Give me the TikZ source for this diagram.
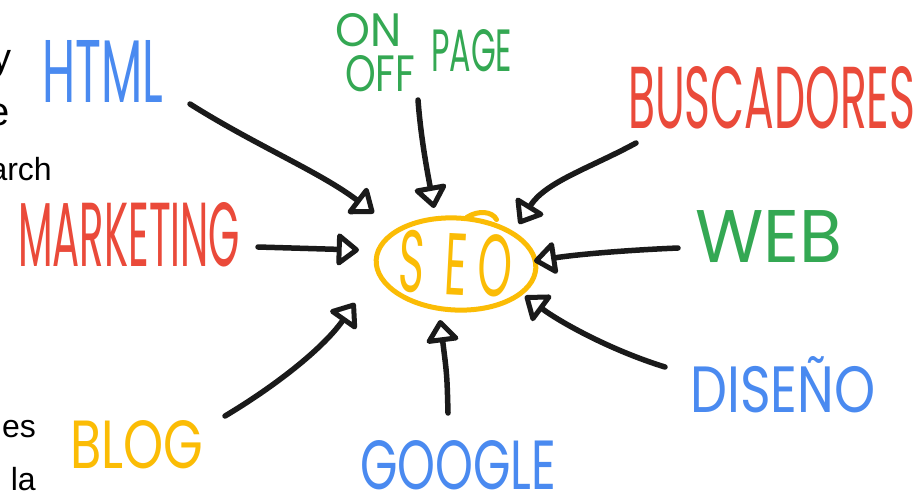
\documentclass[tikz,border=0pt]{standalone}
\usepackage{fontspec}
\setmainfont{Poppins}
\newfontfamily\pagefont{Liberation Sans}
\usetikzlibrary{arrows.meta,shapes.geometric}
\definecolor{gblue}{HTML}{4A8AF0}
\definecolor{gred}{HTML}{EA4A3A}
\definecolor{ggreen}{HTML}{34A853}
\definecolor{gyellow}{HTML}{FBBC05}
\definecolor{ink}{HTML}{1A1A1A}
\newcommand{\fitbox}[3]{\resizebox{#1pt}{#2pt}{#3}}
\tikzset{
  lbl/.style={inner sep=0pt, anchor=north west},
  pagetxt/.style={inner sep=0pt, anchor=base east, font=\pagefont, text=black},
  arr/.style={draw=ink, line width=5.5pt, line cap=round, line join=round,
    -{Triangle[open, length=24pt, width=36pt, line width=5pt, round]}},
}
\begin{document}
\begin{tikzpicture}[x=1pt, y=-1pt]
  \useasboundingbox (0,0) rectangle (917,491);
  \fill[white] (0,0) rectangle (917,491);

  % fragments of the surrounding page text
  \node[pagetxt, font=\pagefont\fontsize{38}{40}\selectfont] (t1) at (12,70) {y};
  \node[pagetxt, font=\pagefont\fontsize{40}{42}\selectfont] (t2) at (10,125) {e};
  \node[pagetxt, font=\pagefont\fontsize{32}{34}\selectfont] (t3) at (52,180) {arch};
  \node[pagetxt, font=\pagefont\fontsize{32}{34}\selectfont] (t4) at (36,437) {es};
  \node[pagetxt, font=\pagefont\fontsize{32}{34}\selectfont] (t5) at (36,490) {la};

  % topic labels
  \node[lbl, text=gblue] (html) at (42,40) {\fitbox{121}{62}{HTML}};
  \node[lbl, text=ggreen] (on) at (335,13) {\fitbox{66}{33}{ON}};
  \node[lbl, text=ggreen] (off) at (345,55) {\fitbox{70}{36}{OFF}};
  \node[lbl, text=ggreen] (page) at (431,29) {\fitbox{81}{42}{PAGE}};
  \node[lbl, text=gred] (busc) at (628,66) {\fitbox{287}{62}{BUSCADORES}};
  \node[lbl, text=gred] (mkt) at (18,202) {\fitbox{222}{64}{MARKETING}};
  \node[lbl, text=ggreen] (web) at (695,210) {\fitbox{147}{52}{WEB}};
  \node[lbl, text=gblue] (dis) at (690,356) {\fitbox{185}{56}{DISEÑO}};
  \node[lbl, text=gblue] (goog) at (360,440) {\fitbox{196}{49}{GOOGLE}};
  \node[lbl, text=gyellow] (blog) at (70,420) {\fitbox{133}{48}{BLOG}};

  % central circled keyword
  \node[ellipse, draw=gyellow, line width=5pt, minimum width=146pt,
        minimum height=92pt, inner sep=0pt, text=gyellow, rotate=-3] (seo) at (456,264)
        {\fitbox{113}{62}{S\hspace{.45em}E\hspace{.25em}O}};
  % small overlap where the pen closed the loop
  \draw[gyellow, line width=5pt, line cap=round] (seo.north) ++(8,2)
        .. controls ++(12,-8) and ++(-4,-8) .. ++(30,2);

  % arrow start and end points
  \coordinate (a1) at (190,104);  \coordinate (b1) at (374,213);
  \coordinate (a2) at (418,100);  \coordinate (b2) at (434,208);
  \coordinate (a3) at (636,143);  \coordinate (b3) at (519,224);
  \coordinate (a4) at (258,247);  \coordinate (b4) at (359,250);
  \coordinate (a5) at (678,248);  \coordinate (b5) at (534,261);
  \coordinate (a6) at (665,367);  \coordinate (b6) at (525,296);
  \coordinate (a7) at (448,413);  \coordinate (b7) at (440,320);
  \coordinate (a8) at (225,416);  \coordinate (b8) at (355,303);

  \draw[arr] (a1) .. controls (255,145) and (320,172) .. (b1);
  \draw[arr] (a2) .. controls (421,140) and (428,175) .. (b2);
  \draw[arr] (a3) .. controls (590,168) and (545,182) .. (b3);
  \draw[arr] (a4) -- (b4);
  \draw[arr] (a5) .. controls (630,250) and (580,254) .. (b5);
  \draw[arr] (a6) .. controls (610,350) and (560,322) .. (b6);
  \draw[arr] (a7) .. controls (447,375) .. (b7);
  \draw[arr] (a8) .. controls (272,388) and (322,350) .. (b8);
\end{tikzpicture}
\end{document}
